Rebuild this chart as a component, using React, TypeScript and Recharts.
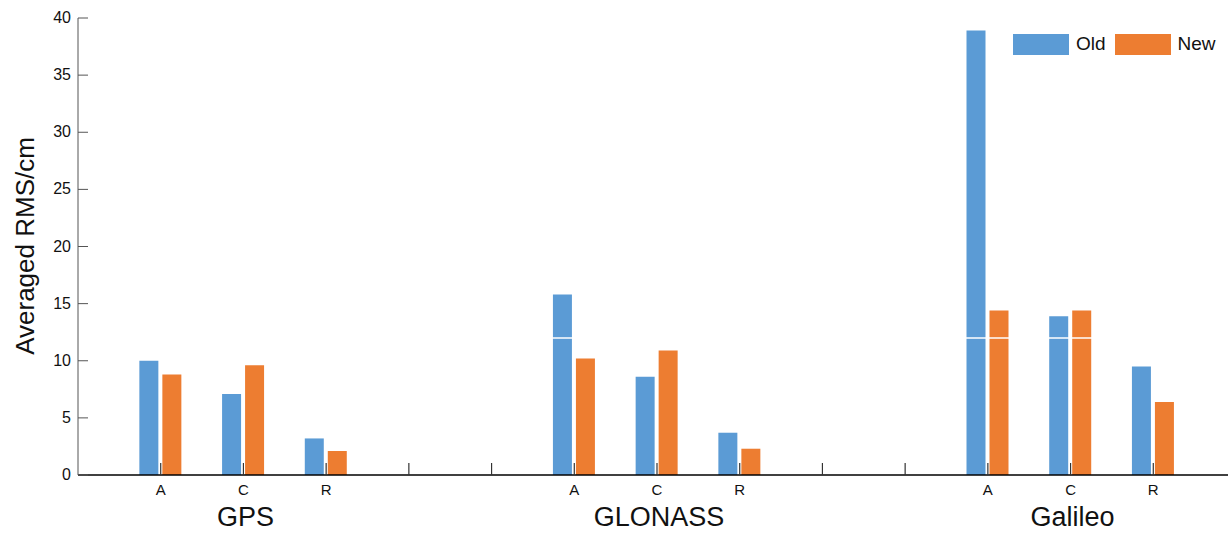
import React from "react"
import { Bar, BarChart, XAxis, YAxis, ReferenceLine } from "recharts"

// category slots 1..13 on the x axis (blank slots separate the systems)
const slots = [1, 2, 3, 4, 5, 6, 7, 8, 9, 10, 11, 12, 13]
const tickLabels = ["A", "C", "R", "", "", "A", "C", "R", "", "", "A", "C", "R"]
const groupNames = ["GPS", "GLONASS", "Galileo"]
const groupSlots = [2, 7, 12]

const oldValues = [10.0, 7.1, 3.2, 0, 0, 15.8, 8.6, 3.7, 0, 0, 38.9, 13.9, 9.5]
const newValues = [8.8, 9.6, 2.1, 0, 0, 10.2, 10.9, 2.3, 0, 0, 14.4, 14.4, 6.4]

const yTicks = [0, 5, 10, 15, 20, 25, 30, 35, 40]

const BLUE = "#5B9BD5"
const ORANGE = "#ED7D31"
const FONT = "'Liberation Sans', Arial, sans-serif"

const data = slots.map((x, i) => ({ x, old: oldValues[i], new: newValues[i] }))

const XTick = (props: any) => {
  const { x, y, payload } = props
  const i = slots.indexOf(payload.value)
  const label = tickLabels[i] ?? ""
  const g = groupSlots.indexOf(payload.value)
  return (
    <g>
      <line x1={x} x2={x} y1={y - 12} y2={y} stroke="#333" strokeWidth={1.2} />
      <text x={x} y={y + 20} textAnchor="middle" fontSize={15} fill="#111" fontFamily={FONT}>
        {label}
      </text>
      {g >= 0 && (
        <text x={x + 2} y={y + 51} textAnchor="middle" fontSize={27} fill="#111" fontFamily={FONT}>
          {groupNames[g]}
        </text>
      )}
    </g>
  )
}

const YTick = (props: any) => {
  const { x, y, payload } = props
  return (
    <g>
      <line x1={x} x2={x + 10} y1={y} y2={y} stroke="#555" strokeWidth={1} />
      <text x={x - 7} y={y + 5} textAnchor="end" fontSize={16} fill="#111" fontFamily={FONT}>
        {payload.value}
      </text>
    </g>
  )
}

const YLabel = () => (
  <text
    x={34}
    y={246}
    transform="rotate(-90, 34, 246)"
    textAnchor="middle"
    fontSize={26}
    fill="#111"
    fontFamily={FONT}
  >
    Averaged RMS/cm
  </text>
)

const LegendBox = () => (
  <div
    style={{
      position: "absolute",
      left: 1013,
      top: 33,
      display: "flex",
      alignItems: "center",
      fontFamily: FONT,
      fontSize: 19,
      color: "#111",
    }}
  >
    <span style={{ width: 56, height: 21, background: BLUE, display: "inline-block" }} />
    <span style={{ marginLeft: 7, marginRight: 9 }}>Old</span>
    <span style={{ width: 56, height: 21, background: ORANGE, display: "inline-block" }} />
    <span style={{ marginLeft: 7 }}>New</span>
  </div>
)

export default function App() {
  return (
    <div style={{ position: "absolute", left: 0, top: 0, width: 1228, height: 533, overflow: "hidden", background: "#fff" }}>
      <BarChart
        width={1240}
        height={533}
        data={data}
        margin={{ top: 18, right: 4, left: 0, bottom: 0 }}
        barSize={19}
        barGap={4}
      >
        <XAxis
          dataKey="x"
          type="number"
          domain={[0, 14]}
          ticks={slots}
          interval={0}
          height={58}
          tickSize={0}
          tickMargin={0}
          tick={<XTick />}
          axisLine={{ stroke: "#000", strokeWidth: 1.5 }}
        />
        <YAxis
          type="number"
          domain={[0, 40]}
          ticks={yTicks}
          width={78}
          tickSize={0}
          tickMargin={0}
          tick={<YTick />}
          axisLine={{ stroke: "#555", strokeWidth: 1 }}
          label={<YLabel />}
        />
        <Bar dataKey="old" name="Old" fill={BLUE} isAnimationActive={false} />
        <Bar dataKey="new" name="New" fill={ORANGE} isAnimationActive={false} />
        <ReferenceLine y={12} stroke="#fff" strokeWidth={1.5} />
      </BarChart>
      <LegendBox />
    </div>
  )
}
